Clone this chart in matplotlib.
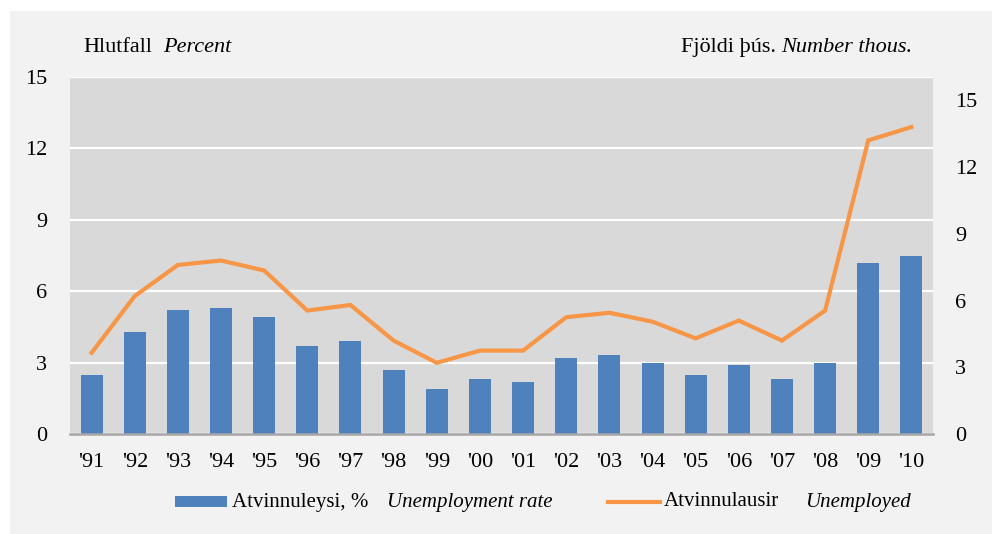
import matplotlib.pyplot as plt
from matplotlib.patches import Rectangle
from matplotlib.lines import Line2D

# Atvinnuleysi 1991-2010
years = ["'91", "'92", "'93", "'94", "'95", "'96", "'97", "'98", "'99", "'00",
         "'01", "'02", "'03", "'04", "'05", "'06", "'07", "'08", "'09", "'10"]
rate = [2.5, 4.3, 5.2, 5.3, 4.9, 3.7, 3.9, 2.7, 1.9, 2.3,
        2.2, 3.2, 3.3, 3.0, 2.5, 2.9, 2.3, 3.0, 7.2, 7.5]
unemployed = [3.65, 6.2, 7.6, 7.8, 7.35, 5.55, 5.8, 4.2, 3.2, 3.75,
              3.75, 5.25, 5.45, 5.05, 4.3, 5.1, 4.2, 5.55, 13.2, 13.8]
left_ticks = [0, 3, 6, 9, 12, 15]
right_ticks = [0, 3, 6, 9, 12, 15]

BLUE = "#4f81bd"
ORANGE = "#f79646"
FONT = "Liberation Serif"

plt.rcParams['font.family'] = FONT

fig = plt.figure(figsize=(9.94, 5.34), dpi=100)
fig.patch.set_facecolor("white")
# grár rammi
fig.patches.append(Rectangle((10 / 994, 0), 982 / 994, 523 / 534,
                             transform=fig.transFigure, facecolor="#f2f2f2",
                             edgecolor="none", zorder=-10))

ax = fig.add_axes([70 / 994, 100 / 534, 863 / 994, 357 / 534])
ax.set_facecolor("#d9d9d9")
x = list(range(len(years)))
ax.bar(x, rate, width=0.51, color=BLUE, zorder=2)
ax.set_xlim(-0.5, len(years) - 0.5)
ax.set_ylim(0, 15)
ax.set_yticks(left_ticks)
ax.set_xticks(x)
ax.set_xticklabels(years)
ax.grid(axis="y", color="white", linewidth=1.6, zorder=1)
ax.set_axisbelow(True)
for s in ["left", "right", "top"]:
    ax.spines[s].set_visible(False)
ax.spines["bottom"].set_color("#a6a6a6")
ax.spines["bottom"].set_linewidth(1.8)
ax.spines["bottom"].set_zorder(3)
ax.tick_params(axis="y", length=0, pad=16.5, labelsize=16)
ax.tick_params(axis="x", length=0, pad=13.5, labelsize=16)

ax2 = ax.twinx()
ax2.plot(x, unemployed, color=ORANGE, linewidth=3, zorder=4, solid_joinstyle="miter")
ax2.set_ylim(0, 16.05)
ax2.set_yticks(right_ticks)
for s in ax2.spines.values():
    s.set_visible(False)
ax2.tick_params(axis="y", length=0, pad=16, labelsize=16)

# ásatitlar
fig.text(83 / 994, 1 - 52 / 534, "Hlutfall", fontsize=16, ha="left", va="baseline")
fig.text(163 / 994, 1 - 52 / 534, "Percent", fontsize=16, style="italic", ha="left", va="baseline")
fig.text(912 / 994, 1 - 52 / 534, "Number thous.", fontsize=16, style="italic", ha="right", va="baseline")
fig.text(776 / 994, 1 - 52 / 534, "Fjöldi þús.", fontsize=16, ha="right", va="baseline")

# skýringar
ly = 1 - 502 / 534
fig.patches.append(Rectangle((175 / 994, ly - 5 / 534), 52 / 994, 11 / 534,
                             transform=fig.transFigure, facecolor=BLUE, edgecolor="none"))
fig.text(232 / 994, ly, "Atvinnuleysi, %", fontsize=15, ha="left", va="center")
fig.text(387 / 994, ly, "Unemployment rate", fontsize=15, style="italic", ha="left", va="center")
fig.lines.append(Line2D([608 / 994, 660 / 994], [ly, ly], transform=fig.transFigure,
                        color=ORANGE, linewidth=3))
fig.text(664 / 994, ly, "Atvinnulausir", fontsize=15, ha="left", va="center")
fig.text(805 / 994, ly, "Unemployed", fontsize=15, style="italic", ha="left", va="center")

fig.savefig("out.png", dpi=100)
